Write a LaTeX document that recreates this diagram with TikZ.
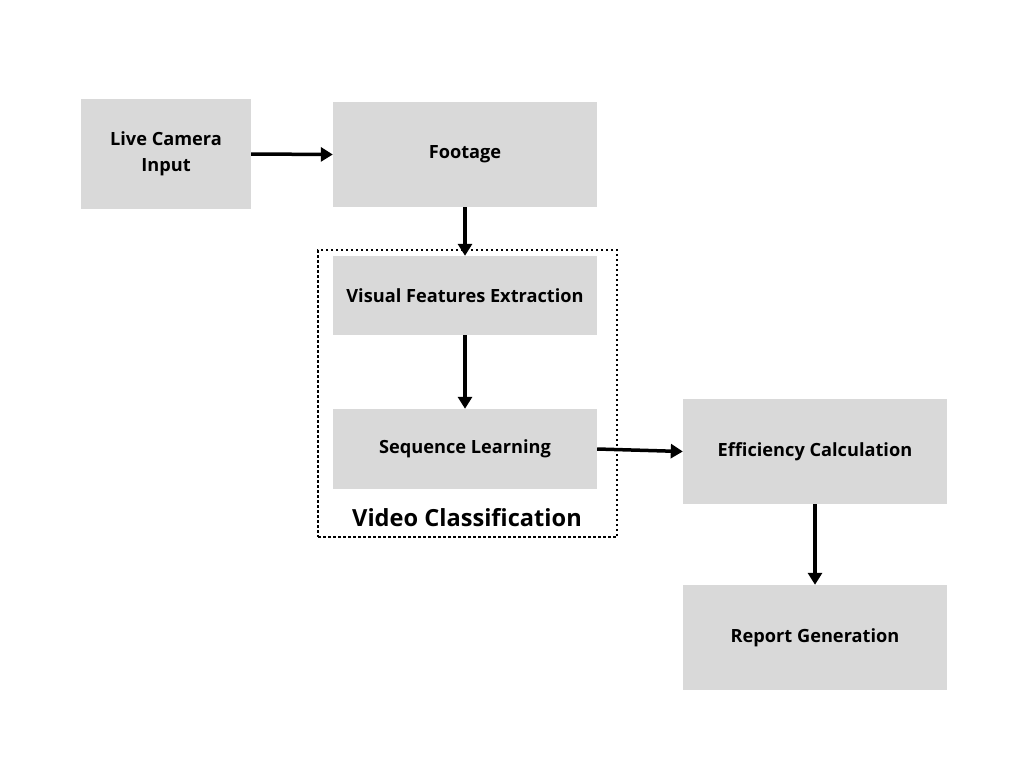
\documentclass[tikz,border=0pt]{standalone}
\usepackage{fontspec}
\setmainfont{Open Sans}
\usetikzlibrary{arrows.meta}
\definecolor{boxgray}{HTML}{D9D9D9}
\tikzset{
  box/.style={fill=boxgray, draw=none, inner sep=0pt, align=center,
    font=\fontsize{18.2}{26}\selectfont\bfseries},
  arr/.style={line width=3.5pt, -{Triangle[length=12pt,width=14pt]}},
  group/.style={draw=black, line width=2.5pt, dash pattern=on 2.5pt off 2.5pt}
}
\begin{document}
\begin{tikzpicture}[x=1pt,y=-1pt]
\useasboundingbox (0,0) rectangle (1024,768);
\node[group, minimum width=299pt, minimum height=287pt] (grp) at (467.5,393.5) {};
\node[box, minimum width=170pt, minimum height=110pt] (live) at (166,154) {Live Camera\\Input};
\node[box, minimum width=264pt, minimum height=105pt] (foot) at (465,154.5) {Footage};
\node[box, minimum width=264pt, minimum height=79pt] (vfe) at (465,295.5) {Visual Features Extraction};
\node[box, minimum width=264pt, minimum height=80pt] (seq) at (465,449) {Sequence Learning};
\node[box, minimum width=264pt, minimum height=105pt] (eff) at (815,451.5) {Efficiency Calculation};
\node[box, minimum width=264pt, minimum height=105pt] (rep) at (815,637.5) {Report Generation};
\node[font=\fontsize{23.6}{28}\selectfont\bfseries, inner sep=0pt] (vc) at (467,518) {Video Classification};
\draw[arr] (live.east) -- (foot.west);
\draw[arr] (foot.south) -- (vfe.north);
\draw[arr] (vfe.south) -- (seq.north);
\draw[arr] (seq.east) -- (eff.west);
\draw[arr] (eff.south) -- (rep.north);
\end{tikzpicture}
\end{document}
